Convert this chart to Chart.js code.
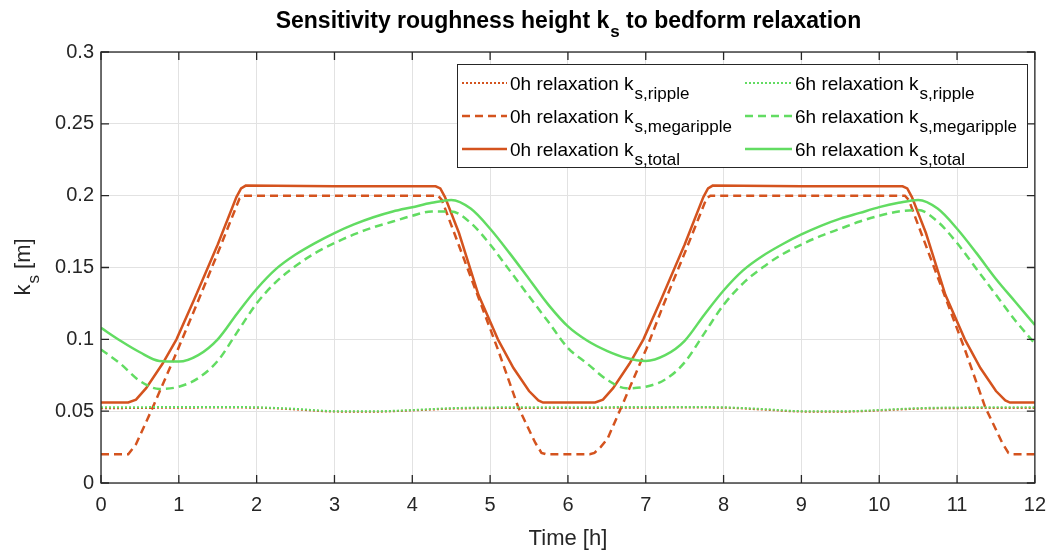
<!DOCTYPE html>
<html>
<head>
<meta charset="utf-8">
<script src="https://cdn.jsdelivr.net/npm/chart.js@4.4.1/dist/chart.umd.min.js"></script>
<style>
  body { margin: 0; background: #fff; }
  #wrap { width: 1056px; height: 552px; }
</style>
</head>
<body>
<div id="wrap"><canvas id="chartKs" width="1056" height="552"></canvas></div>
<script>
// Données
var timeSmooth = [0, 0.25, 0.5, 0.75, 1, 1.25, 1.5, 1.75, 2, 2.25, 2.5, 2.75, 3, 3.25, 3.5, 3.75, 4, 4.25, 4.5, 4.75, 5, 5.25, 5.5, 5.75, 6,
                  6.25, 6.5, 6.75, 7, 7.25, 7.5, 7.75, 8, 8.25, 8.5, 8.75, 9, 9.25, 9.5, 9.75, 10, 10.25, 10.5, 10.75, 11, 11.25, 11.5, 11.75, 12];
var ks6hTotal = [0.108, 0.099, 0.091, 0.085, 0.0845, 0.089, 0.100, 0.118, 0.135, 0.149, 0.159, 0.167, 0.174, 0.180, 0.185, 0.189, 0.192, 0.195, 0.197, 0.191, 0.177, 0.160, 0.142, 0.124, 0.109,
                 0.099, 0.092, 0.087, 0.085, 0.089, 0.099, 0.117, 0.134, 0.148, 0.158, 0.166, 0.173, 0.179, 0.184, 0.188, 0.192, 0.195, 0.197, 0.191, 0.177, 0.160, 0.142, 0.126, 0.110];
var ks6hMega = [0.093, 0.083, 0.071, 0.0655, 0.067, 0.073, 0.085, 0.105, 0.125, 0.140, 0.151, 0.160, 0.167, 0.173, 0.178, 0.182, 0.186, 0.189, 0.189, 0.181, 0.166, 0.148, 0.130, 0.112, 0.094,
                0.083, 0.072, 0.066, 0.067, 0.072, 0.084, 0.104, 0.124, 0.139, 0.150, 0.159, 0.166, 0.172, 0.177, 0.182, 0.186, 0.189, 0.190, 0.182, 0.167, 0.149, 0.131, 0.113, 0.097];

var timeRipple = [0, 0.5, 1, 1.5, 2, 2.5, 3, 3.5, 4, 4.5, 5, 5.5, 6, 6.5, 7, 7.5, 8, 8.5, 9, 9.5, 10, 10.5, 11, 11.5, 12];
var ks0hRipple = [0.0520, 0.0522, 0.0524, 0.0525, 0.0524, 0.0512, 0.0497, 0.0496, 0.0505, 0.0517, 0.0521, 0.0522, 0.0522,
                  0.0523, 0.0524, 0.0525, 0.0524, 0.0511, 0.0497, 0.0496, 0.0505, 0.0517, 0.0521, 0.0522, 0.0522];
var ks6hRipple = [0.0528, 0.0528, 0.0529, 0.0529, 0.0527, 0.0516, 0.0500, 0.0499, 0.0508, 0.0521, 0.0526, 0.0527, 0.0527,
                  0.0528, 0.0529, 0.0529, 0.0527, 0.0515, 0.0500, 0.0499, 0.0508, 0.0521, 0.0526, 0.0527, 0.0527];

var time0hTotal = [0, 0.35, 0.45, 0.58, 0.79, 0.97, 1.2, 1.5, 1.74, 1.8, 1.86, 3.0, 4.3, 4.36, 4.42, 4.6, 4.85, 5.1, 5.3, 5.5, 5.62, 5.68,
                   6.35, 6.45, 6.58, 6.79, 6.97, 7.2, 7.5, 7.74, 7.8, 7.86, 9.0, 10.3, 10.36, 10.42, 10.6, 10.85, 11.1, 11.3, 11.5, 11.62, 11.68, 12];
var ks0hTotal = [0.056, 0.056, 0.058, 0.066, 0.083, 0.100, 0.128, 0.166, 0.199, 0.205, 0.207, 0.2065, 0.2065, 0.205, 0.199, 0.174, 0.131, 0.100, 0.080, 0.064, 0.0575, 0.056,
                 0.056, 0.058, 0.066, 0.083, 0.100, 0.128, 0.166, 0.199, 0.205, 0.207, 0.2065, 0.2065, 0.205, 0.199, 0.174, 0.131, 0.100, 0.080, 0.064, 0.0575, 0.056, 0.056];

var time0hMega = [0, 0.35, 0.45, 0.66, 0.98, 1.22, 1.5, 1.78, 1.83, 4.33, 4.38, 5.1, 5.36, 5.58, 5.66, 5.72,
                  6.28, 6.34, 6.42, 6.51, 6.68, 7.02, 7.22, 7.5, 7.78, 7.83, 10.33, 10.38, 11.1, 11.36, 11.58, 11.66, 11.72, 12];
var ks0hMega = [0.020, 0.020, 0.027, 0.052, 0.092, 0.123, 0.160, 0.198, 0.200, 0.200, 0.197, 0.093, 0.053, 0.028, 0.021, 0.020,
                0.020, 0.021, 0.025, 0.031, 0.052, 0.095, 0.123, 0.160, 0.198, 0.200, 0.200, 0.197, 0.093, 0.053, 0.028, 0.021, 0.020, 0.020];

var xMin = 0, xMax = 12, xStep = 1;
var yMin = 0, yMax = 0.3, yStep = 0.05;

var legendMain = ['0h relaxation k', '0h relaxation k', '0h relaxation k', '6h relaxation k', '6h relaxation k', '6h relaxation k'];
var legendSub = ['s,ripple', 's,megaripple', 's,total', 's,ripple', 's,megaripple', 's,total'];

var orange = '#D4531E';
var green = '#62DC62';
var ink = '#262626';
var fontName = '"Liberation Sans", Arial, Helvetica, sans-serif';

function toPoints(xs, ys) {
	return xs.map(function(x, i) { return { x: x, y: ys[i] }; });
}

function makeSet(idx, xs, ys, color, dash, width, order, smooth) {
	return {
		label: legendMain[idx] + legendSub[idx],
		data: toPoints(xs, ys),
		borderColor: color,
		backgroundColor: color,
		borderDash: dash,
		borderWidth: width,
		pointRadius: 0,
		fill: false,
		order: order,
		tension: smooth ? 0.4 : 0,
		cubicInterpolationMode: smooth ? 'monotone' : 'default'
	};
}

var datasets = [
	makeSet(0, timeRipple, ks0hRipple, orange, [2, 2], 2, 5, true),
	makeSet(1, time0hMega, ks0hMega, orange, [8, 5], 2.5, 4, false),
	makeSet(2, time0hTotal, ks0hTotal, orange, [], 2.5, 3, false),
	makeSet(3, timeRipple, ks6hRipple, green, [2, 2], 2, 2, true),
	makeSet(4, timeSmooth, ks6hMega, green, [8, 5], 2.5, 1, true),
	makeSet(5, timeSmooth, ks6hTotal, green, [], 2.5, 0, true)
];

// texte avec indice
function richWidth(ctx, main, sub, mainFont, subFont) {
	ctx.font = mainFont;
	var w = ctx.measureText(main).width;
	ctx.font = subFont;
	return w + ctx.measureText(sub).width;
}
function drawRich(ctx, x, y, main, sub, rest, mainFont, subFont, drop) {
	ctx.textAlign = 'left';
	ctx.textBaseline = 'alphabetic';
	ctx.font = mainFont;
	ctx.fillText(main, x, y);
	x += ctx.measureText(main).width + 1;
	ctx.font = subFont;
	ctx.fillText(sub, x, y + drop);
	x += ctx.measureText(sub).width;
	if (rest) {
		ctx.font = mainFont;
		ctx.fillText(rest, x, y);
	}
}

var extras = {
	id: 'extras',
	afterDraw: function(chart) {
		var ctx = chart.ctx, a = chart.chartArea;
		var sx = chart.scales.x, sy = chart.scales.y;
		ctx.save();

		// cadre + graduations vers l'intérieur
		ctx.strokeStyle = ink;
		ctx.lineWidth = 1.3;
		ctx.strokeRect(a.left, a.top, a.right - a.left, a.bottom - a.top);
		var tl = 8;
		ctx.beginPath();
		sx.ticks.forEach(function(t) {
			var px = sx.getPixelForValue(t.value);
			ctx.moveTo(px, a.bottom); ctx.lineTo(px, a.bottom - tl);
			ctx.moveTo(px, a.top); ctx.lineTo(px, a.top + tl);
		});
		sy.ticks.forEach(function(t) {
			var py = sy.getPixelForValue(t.value);
			ctx.moveTo(a.left, py); ctx.lineTo(a.left + tl, py);
			ctx.moveTo(a.right, py); ctx.lineTo(a.right - tl, py);
		});
		ctx.stroke();

		// légende
		var box = { left: 457, top: 64, right: 1027, bottom: 167 };
		ctx.fillStyle = '#fff';
		ctx.fillRect(box.left, box.top, box.right - box.left, box.bottom - box.top);
		ctx.strokeStyle = ink;
		ctx.lineWidth = 1;
		ctx.strokeRect(box.left + 0.5, box.top + 0.5, box.right - box.left, box.bottom - box.top);
		var cols = [{ x0: 462, x1: 507, tx: 510 }, { x0: 745, x1: 792, tx: 795 }];
		var rows = [83, 116, 149];
		chart.data.datasets.forEach(function(ds, i) {
			var c = cols[Math.floor(i / 3)], ry = rows[i % 3];
			ctx.strokeStyle = ds.borderColor;
			ctx.lineWidth = ds.borderWidth;
			ctx.setLineDash(ds.borderDash);
			ctx.beginPath();
			ctx.moveTo(c.x0, ry); ctx.lineTo(c.x1, ry);
			ctx.stroke();
			ctx.setLineDash([]);
			ctx.fillStyle = '#000';
			drawRich(ctx, c.tx, ry + 7, legendMain[i], legendSub[i], '', '19px ' + fontName, '17px ' + fontName, 9);
		});

		// titre
		var tMain = 'bold 23px ' + fontName, tSub = 'bold 17px ' + fontName;
		var w1 = richWidth(ctx, 'Sensitivity roughness height k', 's', tMain, tSub);
		ctx.font = tMain;
		var w2 = ctx.measureText(' to bedform relaxation').width;
		var cx = (a.left + a.right) / 2;
		ctx.fillStyle = '#000';
		drawRich(ctx, cx - (w1 + w2) / 2, 28, 'Sensitivity roughness height k', 's', ' to bedform relaxation', tMain, tSub, 9);

		// titres des axes
		ctx.fillStyle = ink;
		ctx.font = '22px ' + fontName;
		ctx.textAlign = 'center';
		ctx.textBaseline = 'alphabetic';
		ctx.fillText('Time [h]', cx, 545);

		var lMain = '22px ' + fontName, lSub = '17px ' + fontName;
		var wl = richWidth(ctx, 'k', 's', lMain, lSub);
		ctx.font = lMain;
		wl += ctx.measureText(' [m]').width;
		ctx.translate(30, (a.top + a.bottom) / 2);
		ctx.rotate(-Math.PI / 2);
		drawRich(ctx, -wl / 2, 0, 'k', 's', ' [m]', lMain, lSub, 9);

		ctx.restore();
	}
};

var ctxKs = document.getElementById('chartKs');
var chartKs = new Chart(ctxKs, {
	type: 'line',
	data: { datasets: datasets },
	options: {
		responsive: false,
		animation: false,
		layout: { padding: { left: 0, top: 52, right: 17, bottom: 0 } },
		plugins: { legend: { display: false }, title: { display: false }, tooltip: { enabled: false } },
		scales: {
			x: {
				type: 'linear', min: xMin, max: xMax,
				afterFit: function(s) { s.height = 69; },
				ticks: { stepSize: xStep, color: ink, padding: 10, maxRotation: 0, font: { family: fontName, size: 20 } },
				grid: { color: '#e2e2e2', drawTicks: false },
				border: { display: false }
			},
			y: {
				type: 'linear', min: yMin, max: yMax,
				afterFit: function(s) { s.width = 101; },
				ticks: {
					stepSize: yStep, color: ink, padding: 7, font: { family: fontName, size: 20 },
					callback: function(v) { return String(+v.toFixed(2)); }
				},
				grid: { color: '#e2e2e2', drawTicks: false },
				border: { display: false }
			}
		}
	},
	plugins: [extras]
});
</script>
</body>
</html>
